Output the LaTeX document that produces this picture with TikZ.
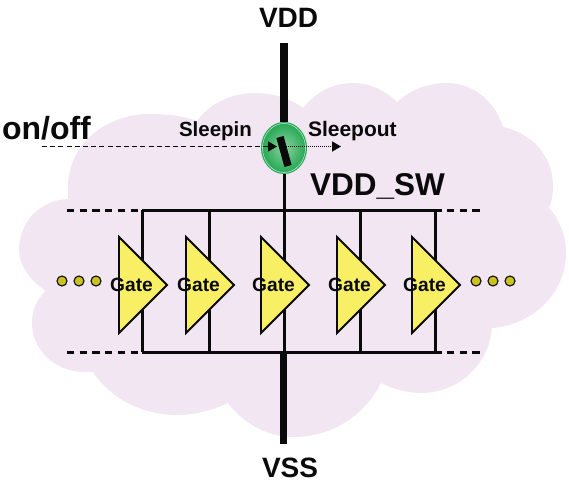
\documentclass[tikz,border=0pt]{standalone}
\usepackage{fontspec}
\setmainfont{Liberation Sans}
\usetikzlibrary{shapes.geometric,arrows.meta}
\definecolor{cloudc}{HTML}{F1E6F1}
\definecolor{gatec}{HTML}{F8EF64}
\definecolor{dotc}{HTML}{C9C222}
\definecolor{swo}{HTML}{1FA650}
\definecolor{swi}{HTML}{8FD2A0}
\definecolor{inkc}{HTML}{0A0A0A}
\tikzset{
  lbl/.style={anchor=base west,inner sep=0pt,outer sep=0pt,text=inkc,font=\bfseries\fontsize{#1}{#1}\selectfont},
  gatetri/.style={draw=inkc,line width=1.9pt,fill=gatec,isosceles triangle,isosceles triangle stretches,
     minimum height=48pt,minimum width=96pt,inner sep=0pt,outer sep=0pt,anchor=apex,line join=miter},
  gatetxt/.style={inner sep=0pt,outer sep=0pt,text=inkc,font=\bfseries\fontsize{19.2}{19.2}\selectfont},
  bus/.style={draw=inkc,line width=3pt},
  busdash/.style={draw=inkc,line width=3pt,dash pattern=on 7.3pt off 5.4pt},
  rail/.style={draw=inkc,line width=7.5pt},
  gdot/.style={circle,draw=inkc,line width=1.1pt,fill=dotc,minimum size=10pt,inner sep=0pt,outer sep=0pt},
  sig/.style={draw=inkc,line width=1.6pt,-{Triangle[length=9pt,width=10pt]}},
}
\begin{document}
\begin{tikzpicture}[x=1pt,y=-1pt]
\useasboundingbox (0,0) rectangle (569,484);
% cloud
\fill[cloudc] (46,291) .. controls (30,280) and (19,266) .. (19,250)
 .. controls (19,222) and (40,200) .. (68,199)
 .. controls (68,196) and (68,190) .. (68,187)
 .. controls (68,145) and (105,114) .. (150,114)
 .. controls (168,114) and (184,116) .. (197,121)
 .. controls (210,103) and (232,93) .. (255,93)
 .. controls (272,93) and (290,98) .. (303,108)
 .. controls (316,92) and (333,83) .. (353,83)
 .. controls (369,83) and (385,90) .. (397,102)
 .. controls (410,90) and (428,83) .. (447,83)
 .. controls (473,83) and (495,101) .. (503,127)
 .. controls (532,133) and (553,157) .. (553,185)
 .. controls (553,193) and (552,201) .. (549,208)
 .. controls (560,220) and (566,236) .. (566,253)
 .. controls (566,293) and (533,325) .. (492,328)
 .. controls (489,365) and (458,393) .. (421,393)
 .. controls (407,393) and (393,389) .. (381,383)
 .. controls (365,415) and (332,437) .. (294,437)
 .. controls (267,437) and (243,423) .. (228,403)
 .. controls (213,410) and (195,415) .. (177,415)
 .. controls (142,415) and (110,398) .. (93,372)
 .. controls (90,372) and (88,372) .. (85,372)
 .. controls (55,372) and (32,350) .. (32,323)
 .. controls (32,310) and (37,299) .. (46,291) -- cycle;
% named points
\coordinate (t0) at (142,210); \coordinate (b0) at (142,352);
\coordinate (t1) at (209,210); \coordinate (b1) at (209,352);
\coordinate (t2) at (284,210); \coordinate (b2) at (284,352);
\coordinate (t3) at (360,210); \coordinate (b3) at (360,352);
\coordinate (t4) at (435,210); \coordinate (b4) at (435,352);
\coordinate (tr) at (442,210); \coordinate (br) at (442,352);
\coordinate (tld) at (67,210); \coordinate (bld) at (67,352);
\coordinate (trd) at (447,210); \coordinate (brd) at (447,352);
\coordinate (vddtop) at (284,43); \coordinate (vsstop) at (283.5,352); \coordinate (vsslow) at (283.5,444);
\coordinate (onin) at (42,146.5); \coordinate (slin) at (277,146.5); \coordinate (slout) at (341,146.5);
\coordinate (barA) at (280,137); \coordinate (barB) at (288,166);
% rails and buses
\node[ellipse,minimum width=46pt,minimum height=52pt,inner sep=0pt,outer sep=0pt] (sw) at (284,148) {};
\path[rail] (vddtop) -- (sw.north);
\path[rail] (vsstop) -- (vsslow);
\path[bus] (sw.south) -- (t2);
\path[bus] (t0) -- (tr); \path[bus] (b0) -- (br);
\foreach \i in {0,1,2,3,4}{ \path[bus] (t\i) -- (b\i); }
\path[busdash] (tld) -- (t0); \path[busdash] (bld) -- (b0);
\path[busdash] (trd) -- +(34.5,0); \path[busdash] (brd) -- +(34.5,0);
% switch
\shade[inner color=swi,outer color=swo] (284,148) ellipse [x radius=23,y radius=26];
\draw[white,opacity=.7,line width=0.6pt] (284,148) ellipse [x radius=21.5,y radius=24.5];
\path[sig,dash pattern=on 5pt off 3.2pt] (onin) -- (slin);
\path[sig,dash pattern=on 1.2pt off 0.8pt] (284,146.5) -- (slout);
\draw[inkc,line width=7.5pt] (barA) -- (barB);
% gates
\foreach \x/\n in {119/a,186/b,261/c,337/d,412/e}{
  \node[gatetri] (g\n) at (\x+48,285) {};
  \node[gatetxt] (gt\n) at (\x+12.5,285) {Gate};
}
% dots
\foreach \x/\n in {62/1,79/2,96/3,476/4,493/5,510/6}{ \node[gdot] (d\n) at (\x,281) {}; }
% labels
\node[lbl=28] (vdd) at (259,28) {VDD};
\node[lbl=28] (vss) at (262,477) {VSS};
\node[lbl=32] (onoff) at (2,139) {on/off};
\node[lbl=20.5] (sleepin) at (179,136) {Sleepin};
\node[lbl=21] (sleepout) at (308,136) {Sleepout};
\node[lbl=31.5] (vddsw) at (310,195) {VDD\_SW};
\end{tikzpicture}
\end{document}
